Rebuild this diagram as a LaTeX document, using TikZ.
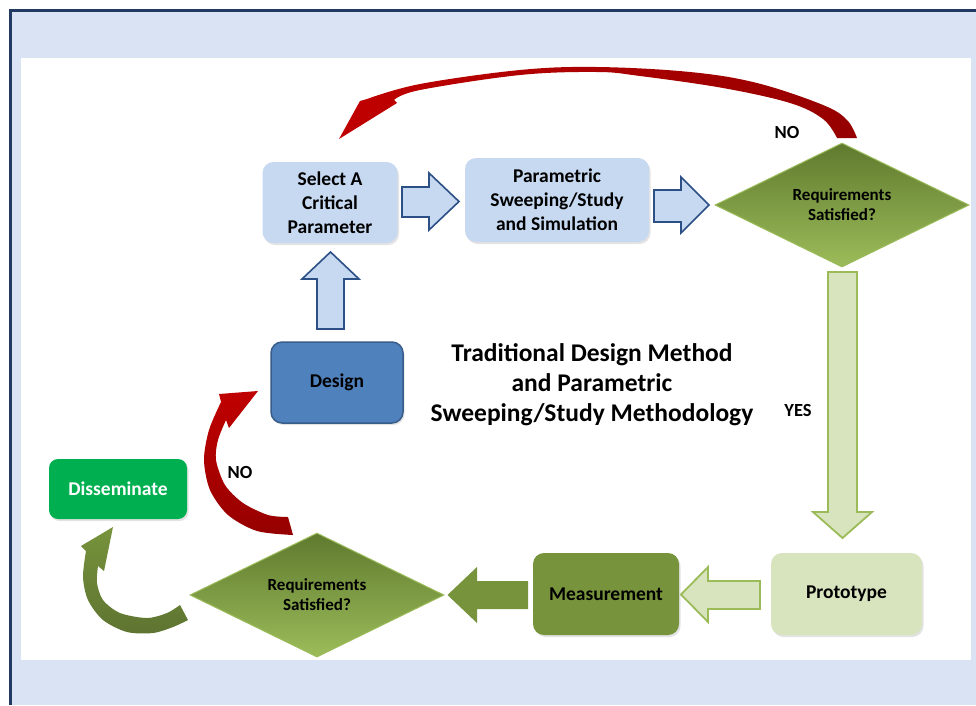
\documentclass[tikz,border=0pt]{standalone}
\usepackage{fontspec}
\setmainfont{Carlito}
\usetikzlibrary{shapes.geometric,shadows}
\definecolor{framebg}{HTML}{DAE3F3}
\definecolor{framedraw}{HTML}{203A62}
\definecolor{paleblue}{HTML}{C6D9F1}
\definecolor{arrblue}{HTML}{2C4F85}
\definecolor{dgreen}{HTML}{77933C}
\definecolor{dgreendark}{HTML}{5E7431}
\definecolor{lgreen}{HTML}{D7E4BD}
\definecolor{lgline}{HTML}{9BBB59}
\definecolor{diatop}{HTML}{5F7A2E}
\definecolor{diabot}{HTML}{9CBC5A}
\definecolor{ssgreen}{HTML}{00B050}
\definecolor{dblue}{HTML}{4F81BD}
\definecolor{dblueline}{HTML}{385D8A}
\definecolor{arrred}{HTML}{C00000}
\definecolor{arrdark}{HTML}{960000}
\newcommand\myNodeFont{\bfseries\fontsize{19.5}{24}\selectfont}
\newcommand\myDiaFont{\bfseries\fontsize{17}{20}\selectfont}
\newcommand\myTitleFont{\bfseries\fontsize{25.5}{30}\selectfont}
\newcommand\myLabFont{\bfseries\fontsize{18.5}{22}\selectfont}
\begin{document}
\begin{tikzpicture}[x=1pt,y=-1pt,
  rbox/.style={rectangle, rounded corners=11, align=center, font=\myNodeFont, inner sep=0,
     drop shadow={shadow xshift=1.5pt, shadow yshift=-2pt, opacity=0.22}},
  dia/.style={diamond, aspect=2, minimum width=254, minimum height=124, inner sep=0,
     draw=lgline, line width=1, top color=diatop, bottom color=diabot, align=center, font=\myDiaFont},
  bluearrow/.style={fill=paleblue, draw=arrblue, line width=1.6, line join=miter},
  lgarrow/.style={fill=lgreen, draw=lgline, line width=1.8, line join=miter},
  lab/.style={font=\myLabFont, inner sep=0}]
\useasboundingbox (0,0) rectangle (976,705);
\fill[white] (0,0) rectangle (976,705);
\fill[framebg] (10.5,10) rectangle (976,705);
\draw[framedraw, line width=3] (10.5,705) -- (10.5,10) -- (976,10);
\fill[white] (21,58) rectangle (971,660);

% nodes
\node[rbox, fill=paleblue, minimum width=135, minimum height=81] (sel) at (330,202.5) {Select A\\Critical\\Parameter};
\node[rbox, fill=paleblue, minimum width=184, minimum height=84] (par) at (557,200) {Parametric\\Sweeping/Study\\and Simulation};
\node[dia] (req1) at (842,205) {Requirements\\Satisfied?};
\node[rbox, fill=lgreen, minimum width=151, minimum height=82] (proto) at (846.5,594) {Prototype};
\node[rbox, fill=dgreen, minimum width=146, minimum height=82] (meas) at (606,594) {Measurement};
\node[dia] (req2) at (317,595) {Requirements\\Satisfied?};
\node[rbox, fill=ssgreen, text=white, minimum width=138, minimum height=60, rounded corners=9, drop shadow={opacity=0}] (diss) at (118,489) {Disseminate};
\node[rbox, fill=dblue, draw=dblueline, line width=1.5, minimum width=132, minimum height=81] (des) at (337,382.5) {Design};
\node[font=\myTitleFont, align=center, inner sep=0] (title) at (592,385) {Traditional Design Method\\and Parametric\\Sweeping/Study Methodology};

% labels
\node[lab] (no1) at (787,132) {NO};
\node[lab] (yes) at (798,410) {YES};
\node[lab] (no2) at (240,472) {NO};

% block arrows
\draw[bluearrow] (402,187) -- (429,187) -- (429,173) -- (459,201.5) -- (429,230) -- (429,217) -- (402,217) -- cycle;
\draw[bluearrow] (654,190) -- (681,190) -- (681,177) -- (709,205) -- (681,233) -- (681,222) -- (654,222) -- cycle;
\draw[bluearrow] (317,329) -- (317,279) -- (302,279) -- (330.5,252) -- (359,279) -- (344,279) -- (344,329) -- cycle;
\draw[lgarrow] (828,272) -- (857,272) -- (857,512) -- (872,512) -- (842.5,538) -- (813,512) -- (828,512) -- cycle;
\draw[lgarrow] (760,581) -- (708,581) -- (708,567) -- (681,594.5) -- (708,622) -- (708,609) -- (760,609) -- cycle;
\fill[dgreen] (528,581) -- (477,581) -- (477,567) -- (447.5,595) -- (477,623) -- (477,609) -- (528,609) -- cycle;

% curved arrows
\shade[left color=arrred, middle color=arrred, right color=arrdark]
  (339,139) -- (360,101) -- plot[smooth, tension=0.6] coordinates {(367,99) (420,84) (520,70) (597,67) (690,72) (757,83) (823,105) (847,120) (857,138)}
  -- plot[smooth, tension=0.6] coordinates {(837,138) (823,119) (790,103) (723,88) (640,76) (597,72) (520,75) (420,90) (394,100)}
  -- (397,103) -- cycle;
\shade[top color=arrred, middle color=arrred, bottom color=arrdark]
  (258,391) -- (219,394) -- plot[smooth] coordinates {(221,402) (209,430) (204,460) (210,490) (228,515) (257,531) (293,535)}
  -- plot[smooth] coordinates {(288,517) (268,515) (243,503) (225,485) (216,460) (218,440) (226,420)}
  -- (229,428) -- cycle;
\shade[top color=dgreen, middle color=dgreen, bottom color=dgreendark]
  (113,527) -- (81,546) -- plot[smooth] coordinates {(86,551) (83,577) (88,600) (103,620) (127,632) (153,633) (173,627) (188,620)}
  -- plot[smooth] coordinates {(180,605) (167,613) (147,618) (120,613) (103,600) (97,583) (98,566)}
  -- (104,571) -- cycle;
\end{tikzpicture}
\end{document}
